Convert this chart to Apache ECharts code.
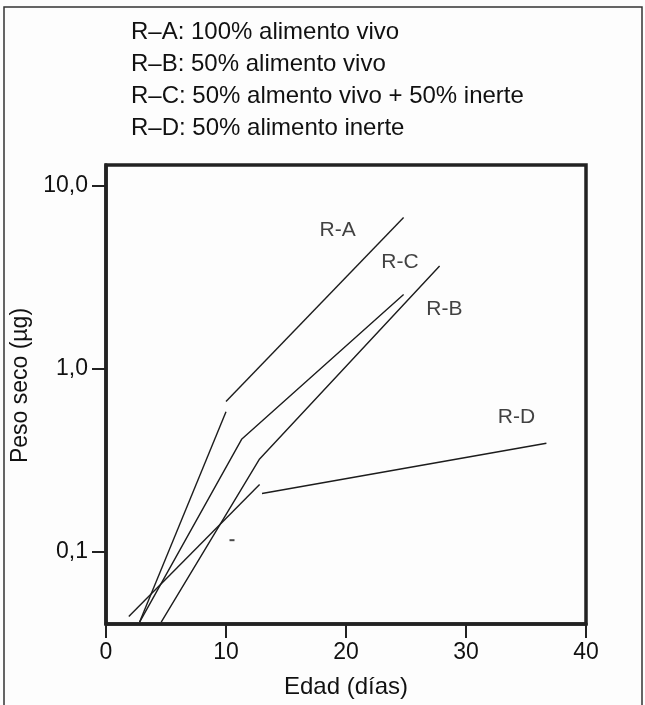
<!DOCTYPE html>
<html>
<head>
<meta charset="utf-8">
<script src="https://cdn.jsdelivr.net/npm/echarts@6/dist/echarts.min.js"></script>
<style>
  html, body { margin: 0; padding: 0; background: #fdfdfd; }
  #chart { width: 645px; height: 705px; }
</style>
</head>
<body>
<div id="chart"></div>
<script>
// textos de la leyenda (arriba)
const leyenda = [
  'R–A: 100% alimento vivo',
  'R–B: 50% alimento vivo',
  'R–C: 50% almento vivo + 50% inerte',
  'R–D: 50% alimento inerte'
]

// [edad (días), peso seco (µg)] -- tramos
const rA1 = [[2.8, 0.041], [10, 0.58]]
const rA2 = [[10, 0.66], [24.8, 6.7]]
const rB = [[4.6, 0.041], [12.8, 0.32], [27.8, 3.64]]
const rC = [[2.8, 0.041], [11.3, 0.41], [24.8, 2.54]]
const rD1 = [[1.9, 0.044], [12.8, 0.232]]
const rD2 = [[13, 0.207], [36.7, 0.39]]
const marca = [[10.5, 0.115]]

// etiquetas de las curvas
const nombres = ['R-A', 'R-B', 'R-C', 'R-D']
const posNombres = [[19.3, 5.75], [28.2, 2.12], [24.5, 3.84], [34.2, 0.543]]

const xTicks = [0, 10, 20, 30, 40]
const yTicks = [0.1, 1, 10]

;(function () {
  let myChart = echarts.init(document.getElementById('chart'))
  const font = 'Liberation Sans, Arial, sans-serif'
  const ink = '#1c1c1c'

  function tramo(data, name) {
    return {
      name: name,
      type: 'line',
      data: data,
      symbol: 'none',
      silent: true,
      clip: true,
      lineStyle: { color: ink, width: 1.4 },
      animation: false
    }
  }

  let option = {
    backgroundColor: '#fdfdfd',
    animation: false,
    title: {
      text: leyenda.join('\n'),
      left: 126,
      top: 11,
      textStyle: {
        fontFamily: font,
        fontSize: 24,
        fontWeight: 'normal',
        color: '#111',
        lineHeight: 32
      }
    },
    grid: {
      left: 106,
      right: 59,
      top: 165,
      bottom: 81,
      show: true,
      borderColor: '#222',
      borderWidth: 3.5,
      backgroundColor: 'transparent'
    },
    xAxis: {
      type: 'value',
      min: 0,
      max: 40,
      interval: 10,
      name: 'Edad (días)',
      nameLocation: 'middle',
      nameGap: 51,
      nameTextStyle: { fontFamily: font, fontSize: 24, color: '#111' },
      axisLine: { show: true, onZero: false, lineStyle: { color: '#222', width: 3.5 } },
      axisTick: { show: true, length: 14, lineStyle: { color: '#222', width: 2 } },
      axisLabel: {
        fontFamily: font,
        fontSize: 23,
        color: '#111',
        margin: 17,
        customValues: xTicks
      },
      splitLine: { show: false }
    },
    yAxis: {
      type: 'log',
      logBase: 10,
      min: 0.04,
      max: 13,
      name: 'Peso seco (µg)',
      nameLocation: 'middle',
      nameGap: 62,
      nameTextStyle: {
        fontFamily: font,
        fontSize: 23,
        color: '#111',
        padding: [0, 0, 0, 18]
      },
      axisLine: { show: true, lineStyle: { color: '#222', width: 3.5 } },
      axisTick: {
        show: true,
        length: 14,
        lineStyle: { color: '#222', width: 2 },
        customValues: yTicks
      },
      axisLabel: {
        fontFamily: font,
        fontSize: 23,
        color: '#111',
        margin: 18,
        customValues: yTicks,
        formatter: function (v) {
          return Number(v).toFixed(1).replace('.', ',')
        }
      },
      splitLine: { show: false }
    },
    graphic: [
      {
        type: 'rect',
        shape: { x: 4, y: 7, width: 638, height: 710 },
        style: { fill: 'none', stroke: '#333', lineWidth: 1.5 },
        silent: true
      }
    ],
    series: [
      tramo(rA1, 'R-A'),
      tramo(rA2, 'R-A'),
      tramo(rB, 'R-B'),
      tramo(rC, 'R-C'),
      tramo(rD1, 'R-D'),
      tramo(rD2, 'R-D'),
      {
        type: 'scatter',
        data: marca,
        symbol: 'rect',
        symbolSize: [5, 2],
        itemStyle: { color: ink },
        silent: true
      },
      {
        type: 'scatter',
        data: posNombres.map((p, i) => ({ value: p, name: nombres[i] })),
        symbolSize: 0,
        silent: true,
        label: {
          show: true,
          position: 'inside',
          formatter: '{b}',
          fontFamily: font,
          fontSize: 21,
          color: '#111'
        }
      }
    ]
  }

  myChart.setOption(option)
})()
</script>
</body>
</html>
